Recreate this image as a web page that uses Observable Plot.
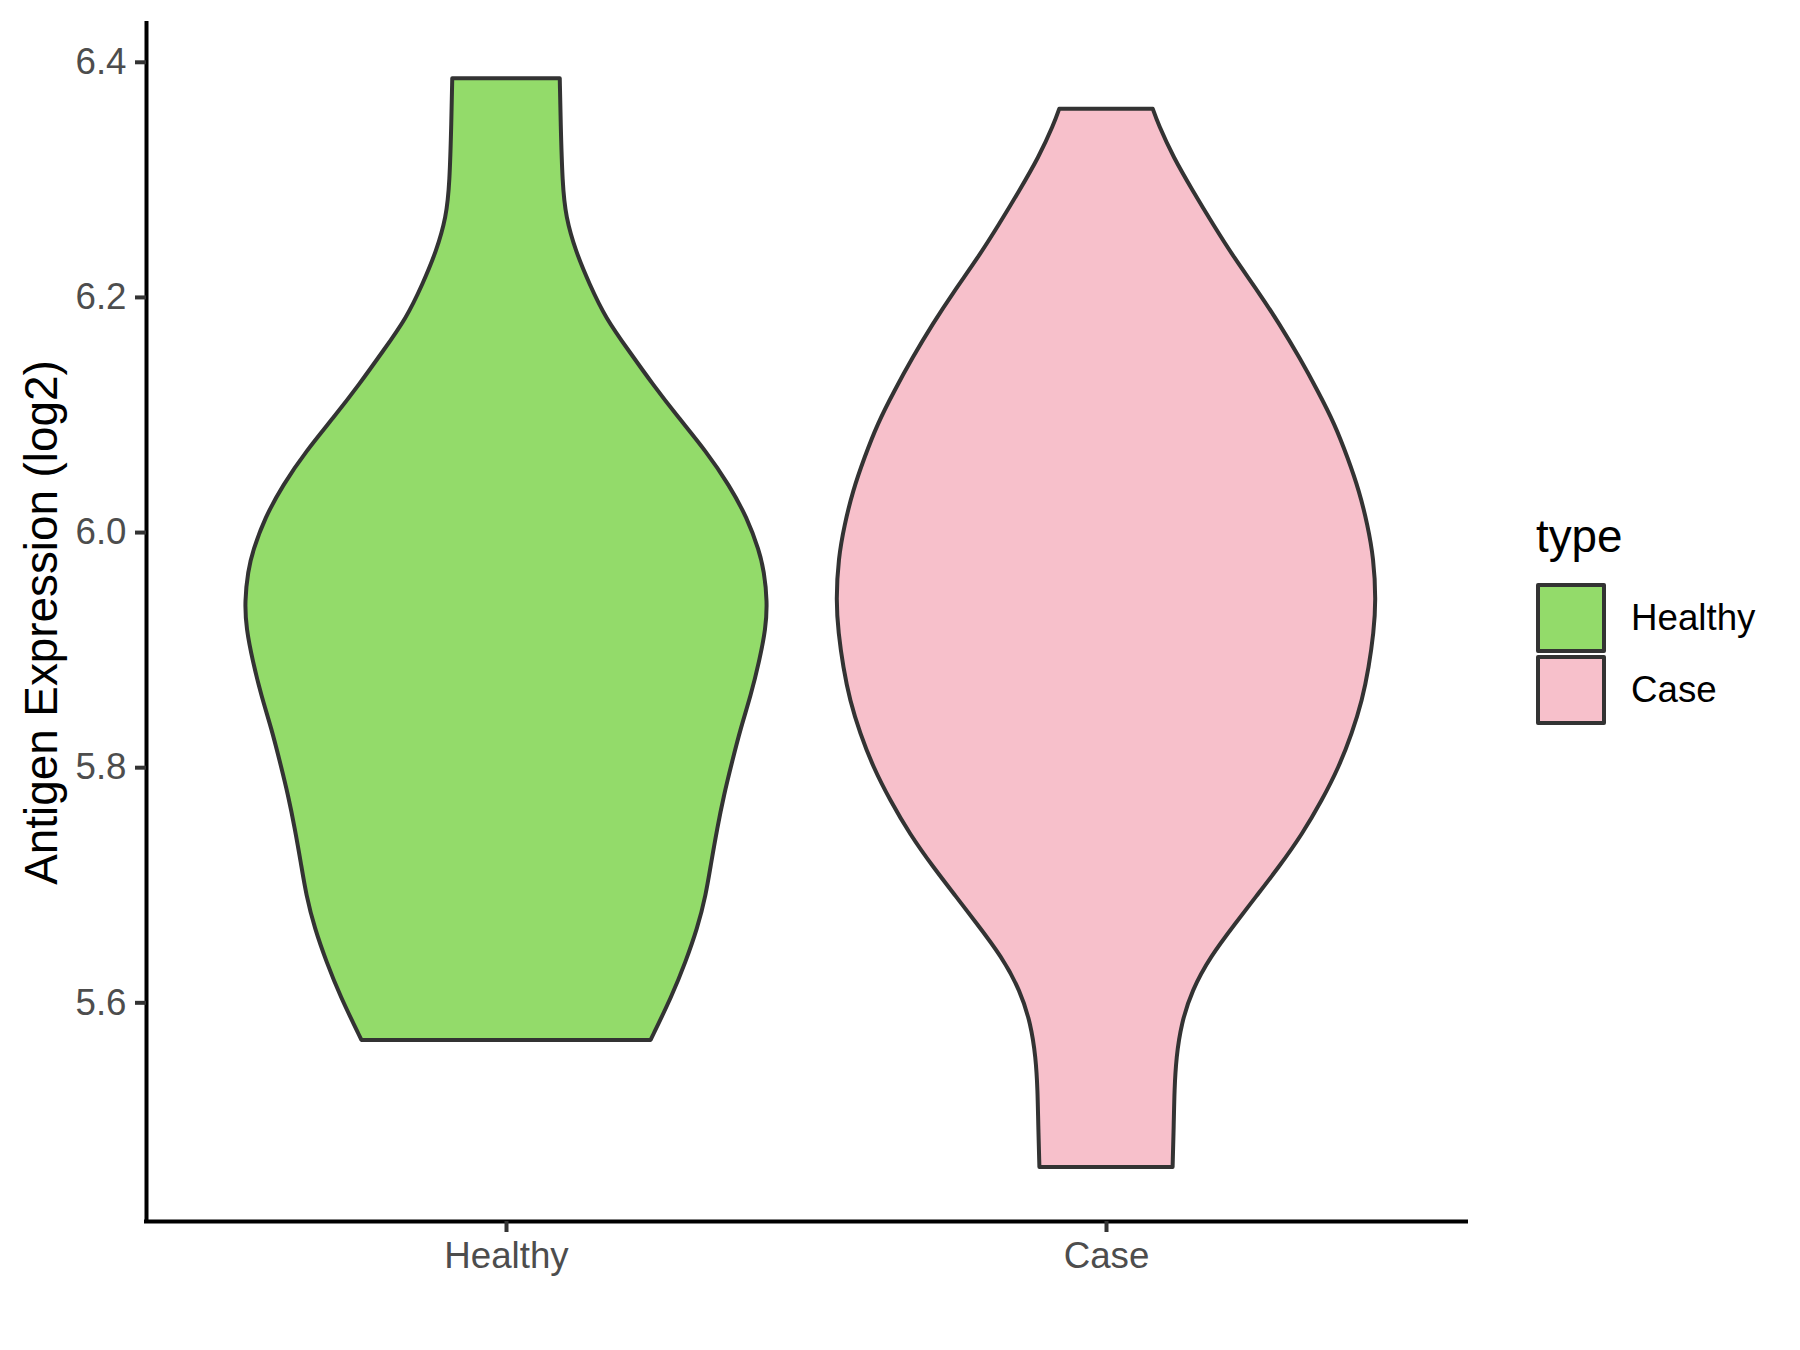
<!DOCTYPE html>
<html>
<head>
<meta charset="utf-8">
<script src="https://cdn.jsdelivr.net/npm/d3@7"></script>
<script src="https://cdn.jsdelivr.net/npm/@observablehq/plot@0.6"></script>
<style>
  html, body { margin: 0; padding: 0; background: #ffffff; }
  #wrap { position: relative; width: 1800px; height: 1350px; font-family: "Liberation Sans", Arial, sans-serif; }
  .lg { position: absolute; color: #000; white-space: nowrap; }
  .key { position: absolute; box-sizing: border-box; border: 4px solid #333333; border-radius: 2px; }
</style>
</head>
<body>
<div id="wrap"></div>
<script>
// ---- data ----
const categories = ["Healthy", "Case"];
const fillColors = ["#93db6a", "#f7c0cb"];
const yTicks = [5.6, 5.8, 6.0, 6.2, 6.4];
const yDomain = [5.414, 6.433];
const xDomain = [0.4, 2.6];
const yLabel = "Antigen Expression (log2)";
const legendTitle = "type";

// violin outlines: expression value and half-width (in category units)
const healthyY = [6.386, 6.35, 6.296, 6.268, 6.239, 6.211, 6.182, 6.154, 6.126, 6.097, 6.069, 6.040, 6.012, 5.984, 5.967, 5.941, 5.918, 5.890, 5.861, 5.833, 5.805, 5.776, 5.748, 5.719, 5.691, 5.663, 5.634, 5.606, 5.568];
const healthyHalfWidth = [0.0896, 0.091, 0.094, 0.0996, 0.116, 0.139, 0.166, 0.205, 0.244, 0.288, 0.333, 0.372, 0.402, 0.422, 0.430, 0.4355, 0.433, 0.422, 0.408, 0.391, 0.377, 0.363, 0.352, 0.342, 0.333, 0.319, 0.299, 0.277, 0.241];
const caseY = [6.360, 6.347, 6.319, 6.290, 6.262, 6.233, 6.205, 6.177, 6.148, 6.120, 6.092, 6.063, 6.035, 6.006, 5.978, 5.942, 5.914, 5.885, 5.857, 5.829, 5.800, 5.772, 5.743, 5.715, 5.690, 5.667, 5.639, 5.610, 5.582, 5.553, 5.525, 5.497, 5.460];
const caseHalfWidth = [0.078, 0.087, 0.112, 0.145, 0.178, 0.214, 0.253, 0.289, 0.323, 0.353, 0.381, 0.403, 0.422, 0.436, 0.446, 0.450, 0.446, 0.438, 0.427, 0.410, 0.388, 0.360, 0.327, 0.288, 0.250, 0.2155, 0.174, 0.143, 0.1255, 0.117, 0.114, 0.113, 0.111];

const seriesY = [healthyY, caseY];
const seriesHW = [healthyHalfWidth, caseHalfWidth];
const rows = categories.flatMap((c, i) =>
  seriesY[i].map((y, j) => ({type: c, pos: i + 1, y, hw: seriesHW[i][j]}))
);

const font = "'Liberation Sans', Arial, sans-serif";

const chart = Plot.plot({
  width: 1800,
  height: 1350,
  marginLeft: 146,
  marginRight: 334,
  marginTop: 23,
  marginBottom: 129,
  style: {fontFamily: font, background: "#ffffff", overflow: "visible"},
  x: {domain: xDomain, axis: null},
  y: {domain: yDomain, axis: null},
  color: {domain: categories, range: fillColors},
  marks: [
    Plot.areaX(rows, {
      y: "y",
      x1: d => d.pos - d.hw,
      x2: d => d.pos + d.hw,
      z: "type",
      fill: "type",
      stroke: "#333333",
      strokeWidth: 4,
      strokeLinejoin: "round",
      curve: "basis"
    }),
    // axis lines
    Plot.ruleX([xDomain[0]], {y1: yDomain[0], y2: yDomain[1], stroke: "#000000", strokeWidth: 4, strokeLinecap: "square"}),
    Plot.ruleY([yDomain[0]], {x1: xDomain[0], x2: xDomain[1], stroke: "#000000", strokeWidth: 4, strokeLinecap: "square"}),
    // y axis ticks + labels
    Plot.axisY({ticks: yTicks, tickSize: 11, tickPadding: 9, stroke: "#333333", strokeWidth: 4,
      fill: "#4d4d4d", fontSize: 36.7, tickFormat: d3.format(".1f"), label: null}),
    // x axis ticks + labels
    Plot.axisX({ticks: [1, 2], tickSize: 11, tickPadding: 9, stroke: "#333333", strokeWidth: 4,
      fill: "#4d4d4d", fontSize: 36.7, tickFormat: d => categories[d - 1], label: null}),
    // y axis title
    Plot.text([yLabel], {frameAnchor: "left", rotate: -90, dx: -104, fontSize: 45.8, fill: "#000000",
      textAnchor: "middle", lineAnchor: "middle", text: d => d})
  ]
});

const wrap = document.getElementById("wrap");
wrap.appendChild(chart);

// legend (HTML overlay on the right)
const lt = document.createElement("div");
lt.className = "lg";
lt.textContent = legendTitle;
lt.style.cssText += "left:1536px;top:514px;font-size:45.8px;line-height:1;";
wrap.appendChild(lt);

categories.forEach((c, i) => {
  const top = 583 + i * 72;
  const k = document.createElement("div");
  k.className = "key";
  k.style.left = "1536px";
  k.style.top = top + "px";
  k.style.width = "70px";
  k.style.height = "70px";
  k.style.background = fillColors[i];
  wrap.appendChild(k);
  const t = document.createElement("div");
  t.className = "lg";
  t.textContent = c;
  t.style.left = "1631px";
  t.style.top = (top + 35 - 21) + "px";
  t.style.fontSize = "36.7px";
  t.style.lineHeight = "42px";
  wrap.appendChild(t);
});
</script>
</body>
</html>
